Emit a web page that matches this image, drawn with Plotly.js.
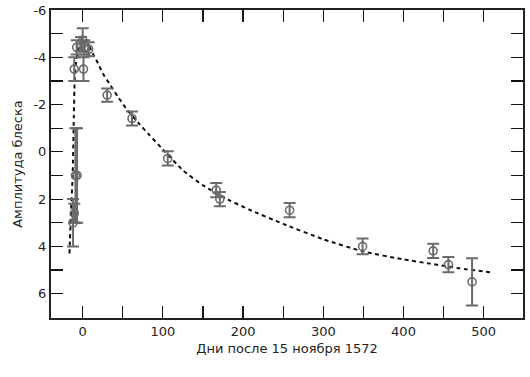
<!DOCTYPE html>
<html><head><meta charset="utf-8">
<script src="https://cdn.plot.ly/plotly-3.0.1.min.js"></script>
<style>html,body{margin:0;padding:0;background:#fff}</style>
</head><body><div id="chart" style="width:530px;height:377px"></div>
<script>
// Observations: days after 15 Nov 1572, magnitude, error
var obsDays = [-7, -9, -10.5, -12, -10.5, 1, -7.5, -2, 2, 7.5, 0, 30.5, 61.5, 106, 166.5, 171, 258, 349, 437, 456, 485.5];
var obsMag  = [1.0, 1.0, 2.6, 3.0, -3.5, -3.5, -4.42, -4.56, -4.42, -4.34, -4.73, -2.4, -1.41, 0.28, 1.62, 2.0, 2.47, 4.0, 4.19, 4.77, 5.5];
var obsErr  = [2.0, 2.0, 0.4, 1.0, 0.5, 0.5, 0.3, 0.3, 0.3, 0.3, 0.5, 0.28, 0.3, 0.3, 0.3, 0.3, 0.3, 0.33, 0.3, 0.32, 1.0];
// Model light curve
var curveDays = [-16.5, -14.5, -12.5, -11, -10, -8, -5, -2, 2, 6, 12.5, 19, 25, 33, 44, 54, 70, 83, 100, 125, 150, 183, 208, 250, 300, 350, 400, 433, 470, 512];
var curveMag  = [4.3, 2.5, 1.0, -1.5, -3.0, -3.9, -4.4, -4.65, -4.75, -4.6, -4.17, -3.75, -3.32, -2.9, -2.33, -1.84, -1.2, -0.72, -0.1, 0.78, 1.42, 2.05, 2.45, 3.05, 3.7, 4.22, 4.55, 4.73, 4.93, 5.11];
var yTickVals = [-6, -4, -2, 0, 2, 4, 6];
var yTickText = ['-6', '-4', '-2', '0', '2', '4', '6'];
var xTickVals = [0, 100, 200, 300, 400, 500];
var xTitle = 'Дни после 15 ноября 1572';
var yTitle = 'Амплитуда блеска';

var grey = '#6b6b6b';
var traces = [
  {x: curveDays, y: curveMag, mode: 'lines', type: 'scatter',
   line: {color: '#111', width: 2, dash: '4px,3.5px', shape: 'spline', smoothing: 0.5},
   hoverinfo: 'skip'},
  {x: obsDays, y: obsMag, mode: 'markers', type: 'scatter',
   marker: {symbol: 'circle-open', size: 8, color: grey, line: {width: 1.6, color: grey}},
   error_y: {type: 'data', array: obsErr, visible: true, color: grey, thickness: 2, width: 6}}
];
var axisFont = {family: 'DejaVu Sans, sans-serif', size: 13, color: '#222'};
var layout = {
  width: 530, height: 377,
  margin: {l: 51, r: 7, t: 10, b: 59},
  paper_bgcolor: '#fff', plot_bgcolor: '#fff',
  showlegend: false,
  font: axisFont,
  xaxis: {
    range: [-39.5, 549], tickmode: 'array', tickvals: xTickVals,
    ticks: 'inside', ticklen: 12, tickwidth: 1.2, tickcolor: '#111',
    minor: {tickmode: 'linear', tick0: 0, dtick: 50, ticks: 'inside', ticklen: 12, tickwidth: 1.2, tickcolor: '#111'},
    showline: true, linewidth: 2, linecolor: '#222', mirror: 'ticks',
    showgrid: false, zeroline: false,
    tickfont: axisFont,
    title: {text: xTitle, font: axisFont, standoff: 6}
  },
  yaxis: {
    range: [7.03, -6], tickmode: 'array', tickvals: yTickVals, ticktext: yTickText,
    ticks: 'inside', ticklen: 12, tickwidth: 1.2, tickcolor: '#111',
    minor: {tickmode: 'linear', tick0: 0, dtick: 1, ticks: 'inside', ticklen: 12, tickwidth: 1.2, tickcolor: '#111'},
    showline: true, linewidth: 2, linecolor: '#222', mirror: 'ticks',
    showgrid: false, zeroline: false,
    tickfont: axisFont,
    title: {text: yTitle, font: axisFont, standoff: 8}
  }
};
Plotly.newPlot('chart', traces, layout, {displayModeBar: false, staticPlot: true});
</script></body></html>
